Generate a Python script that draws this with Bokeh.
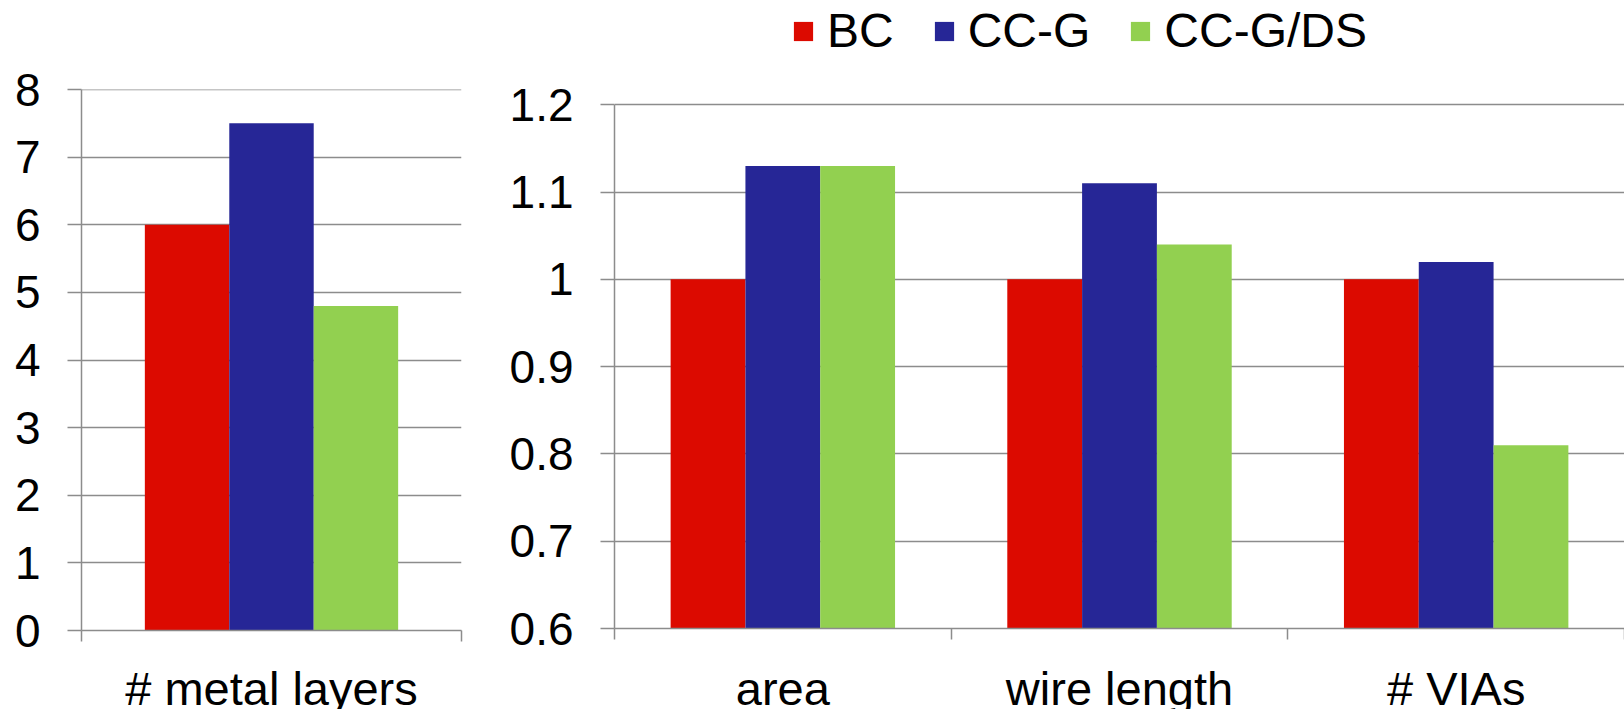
from bokeh.plotting import figure
from bokeh.models import (Range1d, LinearAxis, FixedTicker, GlobalInlineStyleSheet,
                          NumeralTickFormatter, ColumnDataSource)
from bokeh.transform import dodge
from bokeh.layouts import row
from bokeh.embed import file_html
from bokeh.resources import INLINE

# ---------------- data ----------------
series = ["BC", "CC-G", "CC-G/DS"]
colors = ["#DC0A00", "#262696", "#92D050"]

left_categories = ["# metal layers"]
left_bc = [6.0]
left_ccg = [7.5]
left_ccgds = [4.8]
left_ticks = [0, 1, 2, 3, 4, 5, 6, 7, 8]

right_categories = ["area", "wire length", "# VIAs"]
right_bc = [1.0, 1.0, 1.0]
right_ccg = [1.13, 1.11, 1.02]
right_ccgds = [1.13, 1.04, 0.81]
right_ticks = [0.6, 0.7, 0.8, 0.9, 1.0, 1.1, 1.2]

FONT = "Liberation Sans"
GRAY = "#8C8C8C"
BAR_W = 0.2222


def make_fig(categories, values, ticks, width, height, borders, label_standoff,
             y_top_extra=0.0, legend=False):
    n = len(categories)
    y0, y1 = ticks[0], ticks[-1]
    p = figure(x_range=Range1d(0, n),
               y_range=Range1d(y0, y1 + y_top_extra + 1e-9),
               width=width, height=height,
               output_backend="svg", toolbar_location=None,
               x_axis_location=None,
               min_border_left=borders[0], min_border_right=borders[1],
               min_border_top=borders[2], min_border_bottom=borders[3])
    p.frame_align = False
    p.outline_line_color = None
    p.background_fill_color = "white"
    p.border_fill_color = "white"

    centers = [i + 0.5 for i in range(n)]
    src = ColumnDataSource(dict(pos=centers, cat=categories,
                                **{s: v for s, v in zip(series, values)}))
    offsets = [-BAR_W, 0.0, BAR_W]
    for s, c, off in zip(series, colors, offsets):
        kw = dict(legend_label=s) if legend else {}
        p.vbar(x=dodge("pos", off), top=s, bottom=y0,
               width=BAR_W, source=src, fill_color=c, line_color=None, **kw)

    # y axis
    ya = p.yaxis[0]
    ya.ticker = FixedTicker(ticks=ticks)
    ya.formatter = NumeralTickFormatter(format="0.[0]")
    ya.bounds = (y0, y1)
    ya.axis_line_color = GRAY
    ya.axis_line_width = 1.5
    ya.major_tick_line_color = GRAY
    ya.major_tick_line_width = 1.5
    ya.major_tick_out = 14
    ya.major_tick_in = 0
    ya.minor_tick_line_color = None
    ya.major_label_text_font = FONT
    ya.major_label_text_font_size = "46px"
    ya.major_label_text_color = "black"
    ya.major_label_standoff = 27

    p.ygrid.ticker = FixedTicker(ticks=ticks)
    p.ygrid.grid_line_color = GRAY
    p.ygrid.grid_line_width = 1.5
    p.xgrid.visible = False

    # category axis: labels at centres, tick marks at category boundaries
    ca = LinearAxis(ticker=FixedTicker(ticks=centers, minor_ticks=list(range(n + 1))),
                    major_label_overrides={c: lab for c, lab in zip(centers, categories)},
                    axis_line_color=GRAY, axis_line_width=1.5,
                    major_tick_line_color=None,
                    major_tick_out=0, major_tick_in=0,
                    minor_tick_line_color=GRAY, minor_tick_line_width=1.5,
                    minor_tick_out=11, minor_tick_in=0,
                    major_label_text_font=FONT,
                    major_label_text_font_size="47px",
                    major_label_text_color="black",
                    major_label_standoff=label_standoff)
    p.add_layout(ca, "below")
    return p


left = make_fig(left_categories, [left_bc, left_ccg, left_ccgds], left_ticks,
                480, 725, (81, 19, 89, 95), 20)
# right panel: frame reaches the top edge so the legend sits inside it
right = make_fig(right_categories, [right_bc, right_ccg, right_ccgds], right_ticks,
                 1144, 723, (134, 0, 0, 95), 22, y_top_extra=0.1195, legend=True)

lg = right.legend[0]
lg.orientation = "horizontal"
lg.location = (177, 570)
lg.label_text_font = FONT
lg.label_text_font_size = "48px"
lg.label_text_color = "black"
lg.glyph_width = 24
lg.glyph_height = 24
lg.label_standoff = 12
lg.spacing = 38
lg.padding = 0
lg.margin = 0
lg.border_line_color = None
lg.background_fill_alpha = 0

css = GlobalInlineStyleSheet(css="html, body { margin: 0; padding: 0; overflow: hidden; }")
layout = row(left, right, spacing=0, stylesheets=[css])
open("out.html", "w").write(file_html(layout, INLINE))
